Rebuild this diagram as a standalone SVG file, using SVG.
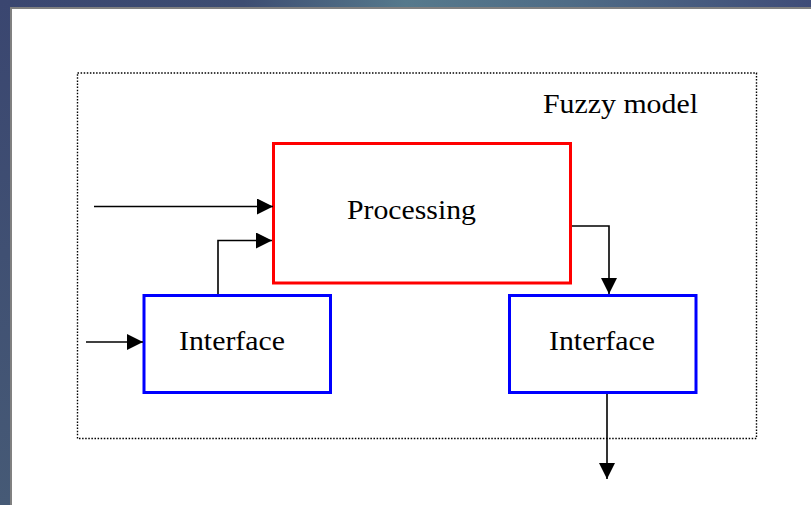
<svg xmlns="http://www.w3.org/2000/svg" width="811" height="505" viewBox="0 0 811 505">
  <defs>
    <linearGradient id="topBand" x1="0" y1="0" x2="1" y2="0">
      <stop offset="0" stop-color="#3a4670"/>
      <stop offset="0.3" stop-color="#3d4d72"/>
      <stop offset="0.5" stop-color="#56798c"/>
      <stop offset="0.7" stop-color="#4f6c86"/>
      <stop offset="1" stop-color="#3f4c78"/>
    </linearGradient>
    <linearGradient id="sideBand" x1="0" y1="0" x2="0" y2="1">
      <stop offset="0" stop-color="#3a4670"/>
      <stop offset="1" stop-color="#465a76"/>
    </linearGradient>
    <marker id="arrow" viewBox="0 0 16 16" refX="16" refY="8" markerWidth="16" markerHeight="16" markerUnits="userSpaceOnUse" orient="auto">
      <path d="M0,0 L16,8 L0,16 Z" fill="#000"/>
    </marker>
    <style>
      .frame { fill: none; stroke: #000; stroke-width: 1.4; stroke-dasharray: 1.5 1.6; }
      .proc { fill: none; stroke: #ff0000; stroke-width: 3; }
      .iface { fill: none; stroke: #0000ff; stroke-width: 3; }
      .wire { fill: none; stroke: #000; stroke-width: 1.6; marker-end: url(#arrow); }
      .label { font-family: "Liberation Serif", "Times New Roman", serif; font-size: 28px; fill: #000; }
    </style>
  </defs>

  <!-- slide background -->
  <rect x="0" y="0" width="811" height="505" fill="#ffffff"/>
  <rect x="0" y="0" width="811" height="7" fill="url(#topBand)"/>
  <rect x="0" y="0" width="10" height="505" fill="url(#sideBand)"/>
  <rect x="10" y="7" width="801" height="2" fill="#808080"/>
  <rect x="10" y="7" width="2" height="498" fill="#808080"/>

  <!-- model boundary -->
  <g id="fuzzy-model">
    <rect class="frame" x="77.5" y="73" width="679" height="365.5"/>
    <text class="label" x="543" y="113" textLength="155" lengthAdjust="spacingAndGlyphs">Fuzzy model</text>
  </g>

  <g id="processing">
    <rect class="proc" x="273.5" y="143.5" width="297" height="139.5"/>
    <text class="label" x="347" y="219" textLength="129" lengthAdjust="spacingAndGlyphs">Processing</text>
  </g>

  <g id="interface-in">
    <rect class="iface" x="144" y="295.5" width="186.5" height="97"/>
    <text class="label" x="179" y="350" textLength="106" lengthAdjust="spacingAndGlyphs">Interface</text>
  </g>

  <g id="interface-out">
    <rect class="iface" x="509.5" y="295.5" width="186.5" height="97"/>
    <text class="label" x="549" y="350" textLength="106" lengthAdjust="spacingAndGlyphs">Interface</text>
  </g>

  <!-- connectors -->
  <g id="connectors">
    <path class="wire" d="M94,206.5 H273"/>
    <path class="wire" d="M218,294 V240.5 H272"/>
    <path class="wire" d="M86,342 H143"/>
    <path class="wire" d="M572,226 H609 V294"/>
    <path class="wire" d="M607,394 V479"/>
  </g>
</svg>
